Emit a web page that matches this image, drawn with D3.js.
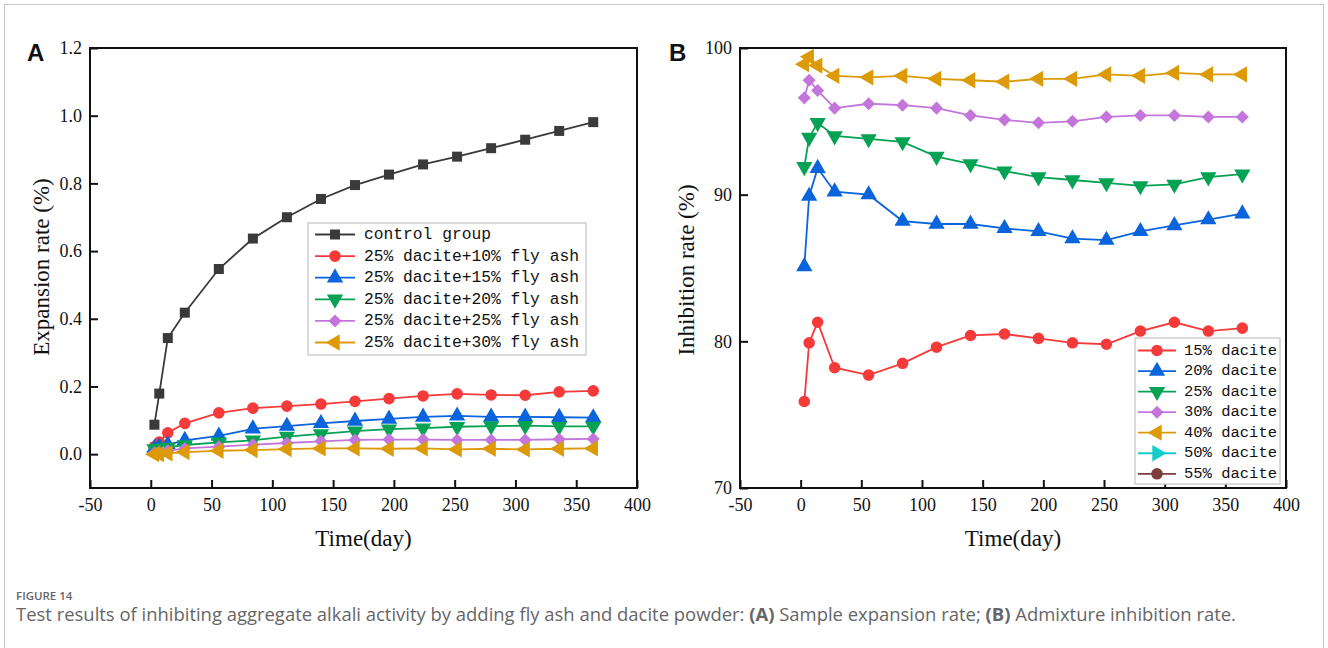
<!DOCTYPE html>
<html>
<head>
<meta charset="utf-8">
<script src="https://cdn.jsdelivr.net/npm/d3@7"></script>
<style>
  html, body { margin: 0; padding: 0; background: #fff; }
  svg { display: block; }
</style>
</head>
<body>
<svg id="chart" width="1328" height="648"></svg>
<script>
// ---------------- DATA ----------------
const days = [3, 7, 14, 28, 56, 84, 112, 140, 168, 196, 224, 252, 280, 308, 336, 364];

// Panel A: expansion rate (%)
const expansionNames = ["control group", "25% dacite+10% fly ash", "25% dacite+15% fly ash",
  "25% dacite+20% fly ash", "25% dacite+25% fly ash", "25% dacite+30% fly ash"];
const controlGroup = [0.087, 0.179, 0.343, 0.418, 0.547, 0.637, 0.700, 0.754, 0.795, 0.826, 0.856, 0.879, 0.904, 0.929, 0.955, 0.981];
const flyAsh10 = [0.022, 0.036, 0.063, 0.091, 0.122, 0.136, 0.142, 0.148, 0.156, 0.164, 0.172, 0.178, 0.175, 0.174, 0.184, 0.187];
const flyAsh15 = [0.018, 0.022, 0.028, 0.041, 0.054, 0.075, 0.083, 0.091, 0.098, 0.104, 0.110, 0.113, 0.110, 0.110, 0.109, 0.108];
const flyAsh20 = [0.015, 0.017, 0.020, 0.027, 0.035, 0.041, 0.052, 0.060, 0.068, 0.074, 0.077, 0.081, 0.083, 0.084, 0.082, 0.082];
const flyAsh25 = [0.004, 0.005, 0.010, 0.017, 0.022, 0.028, 0.033, 0.038, 0.042, 0.043, 0.043, 0.042, 0.042, 0.042, 0.044, 0.045];
const flyAsh30 = [0.000, 0.000, 0.002, 0.006, 0.010, 0.012, 0.015, 0.017, 0.017, 0.016, 0.017, 0.014, 0.016, 0.014, 0.016, 0.017];

// Panel B: inhibition rate (%)
const inhibitionNames = ["15% dacite", "20% dacite", "25% dacite", "30% dacite", "40% dacite", "50% dacite", "55% dacite"];
const dacite15 = [75.9, 79.9, 81.3, 78.2, 77.7, 78.5, 79.6, 80.4, 80.5, 80.2, 79.9, 79.8, 80.7, 81.3, 80.7, 80.9];
const dacite20 = [85.1, 89.9, 91.8, 90.2, 90.0, 88.2, 88.0, 88.0, 87.7, 87.5, 87.0, 86.9, 87.5, 87.9, 88.3, 88.7];
const dacite25 = [91.9, 93.9, 94.9, 94.0, 93.8, 93.6, 92.6, 92.1, 91.6, 91.2, 91.0, 90.8, 90.6, 90.7, 91.2, 91.4];
const dacite30 = [96.6, 97.8, 97.1, 95.9, 96.2, 96.1, 95.9, 95.4, 95.1, 94.9, 95.0, 95.3, 95.4, 95.4, 95.3, 95.3];
const dacite40 = [98.9, 99.4, 98.8, 98.1, 98.0, 98.1, 97.9, 97.8, 97.7, 97.9, 97.9, 98.2, 98.1, 98.3, 98.2, 98.2];
const dacite50 = [];
const dacite55 = [];

// Tick labels
const xTicks = [-50, 0, 50, 100, 150, 200, 250, 300, 350, 400];
const yTicksA = [0.0, 0.2, 0.4, 0.6, 0.8, 1.0, 1.2];
const yTicksB = [70, 80, 90, 100];

const captionTitle = "FIGURE 14";
const captionText = "Test results of inhibiting aggregate alkali activity by adding fly ash and dacite powder: ";

// ---------------- STYLE ----------------
const colors = {
  black: "#3a3a3a", red: "#f53a3a", blue: "#0a64dc", green: "#06a254",
  purple: "#c475dc", orange: "#dc9a06", cyan: "#14cccc", brown: "#7e3e3e"
};
const markerShapes = {
  square:  {type: d3.symbolSquare,   size: 100, rot: 0},
  circle:  {type: d3.symbolCircle,   size: 105, rot: 0},
  up:      {type: d3.symbolTriangle, size: 115, rot: 0},
  down:    {type: d3.symbolTriangle, size: 115, rot: 180},
  diamond: {type: d3.symbolSquare,   size: 85,  rot: 45},
  left:    {type: d3.symbolTriangle, size: 115, rot: -90},
  right:   {type: d3.symbolTriangle, size: 115, rot: 90}
};

const seriesA = [
  {name: expansionNames[0], values: controlGroup, color: colors.black, marker: "square"},
  {name: expansionNames[1], values: flyAsh10, color: colors.red, marker: "circle"},
  {name: expansionNames[2], values: flyAsh15, color: colors.blue, marker: "up"},
  {name: expansionNames[3], values: flyAsh20, color: colors.green, marker: "down"},
  {name: expansionNames[4], values: flyAsh25, color: colors.purple, marker: "diamond"},
  {name: expansionNames[5], values: flyAsh30, color: colors.orange, marker: "left"}
];
const seriesB = [
  {name: inhibitionNames[0], values: dacite15, color: colors.red, marker: "circle"},
  {name: inhibitionNames[1], values: dacite20, color: colors.blue, marker: "up"},
  {name: inhibitionNames[2], values: dacite25, color: colors.green, marker: "down"},
  {name: inhibitionNames[3], values: dacite30, color: colors.purple, marker: "diamond"},
  {name: inhibitionNames[4], values: dacite40, color: colors.orange, marker: "left"},
  {name: inhibitionNames[5], values: dacite50, color: colors.cyan, marker: "right"},
  {name: inhibitionNames[6], values: dacite55, color: colors.brown, marker: "circle"}
];

const svg = d3.select("#chart");
const serif = "'Liberation Serif', 'Times New Roman', serif";
const mono = "'Liberation Mono', 'Courier New', monospace";

// outer frame
svg.append("rect").attr("x", 4.5).attr("y", 4.5).attr("width", 1319).attr("height", 660)
  .attr("fill", "none").attr("stroke", "#c8c8c8").attr("stroke-width", 1);

function symbolPath(m) {
  const s = markerShapes[m];
  return d3.symbol().type(s.type).size(s.size)();
}

function drawPanel(cfg) {
  const x = d3.scaleLinear().domain([-50, 400]).range([cfg.left, cfg.right]);
  const y = d3.scaleLinear().domain(cfg.yDomain).range([cfg.bottom, cfg.top]);
  const g = svg.append("g");

  // x axis (inward ticks)
  const xAxis = d3.axisBottom(x).tickValues(xTicks).tickFormat(d => String(d))
    .tickSizeInner(-8).tickSizeOuter(0).tickPadding(10);
  const gx = g.append("g").attr("transform", `translate(0,${cfg.bottom})`).call(xAxis);
  // y axis
  const yAxis = d3.axisLeft(y).tickValues(cfg.yTicks).tickFormat(cfg.yFormat)
    .tickSizeInner(-8).tickSizeOuter(0).tickPadding(8);
  const gy = g.append("g").attr("transform", `translate(${cfg.left},0)`).call(yAxis);

  [gx, gy].forEach(a => {
    a.select(".domain").remove();
    a.selectAll(".tick line").attr("stroke", "#111").attr("stroke-width", 2);
    a.selectAll(".tick text").attr("font-family", serif).attr("font-size", 18).attr("fill", "#111");
  });

  // frame
  g.append("rect").attr("x", cfg.left).attr("y", cfg.top)
    .attr("width", cfg.right - cfg.left).attr("height", cfg.bottom - cfg.top)
    .attr("fill", "none").attr("stroke", "#111").attr("stroke-width", 2);

  // series
  const line = d3.line().x((d, i) => x(days[i])).y(d => y(d));
  cfg.series.forEach(s => {
    if (!s.values.length) return;
    g.append("path").datum(s.values).attr("d", line)
      .attr("fill", "none").attr("stroke", s.color).attr("stroke-width", 1.8);
    g.selectAll(null).data(s.values).enter().append("path")
      .attr("d", symbolPath(s.marker))
      .attr("transform", (d, i) => `translate(${x(days[i])},${y(d)}) rotate(${markerShapes[s.marker].rot})`)
      .attr("fill", s.color);
  });

  // axis titles
  g.append("text").attr("x", (cfg.left + cfg.right) / 2).attr("y", 546)
    .attr("text-anchor", "middle").attr("font-family", serif).attr("font-size", 23)
    .attr("fill", "#111").text("Time(day)");
  g.append("text").attr("transform", `translate(${cfg.yTitleX},${cfg.yTitleY}) rotate(-90)`)
    .attr("text-anchor", "middle").attr("dominant-baseline", "central")
    .attr("font-family", serif).attr("font-size", 23).attr("fill", "#111").text(cfg.yTitle);

  // panel letter
  g.append("text").attr("x", cfg.letterX).attr("y", 61)
    .attr("font-family", "'Liberation Sans', Arial, sans-serif").attr("font-weight", "bold")
    .attr("font-size", 24).attr("fill", "#111").text(cfg.letter);

  // legend
  const L = cfg.legend;
  g.append("rect").attr("x", L.x).attr("y", L.y).attr("width", L.w).attr("height", L.h)
    .attr("fill", "#fff").attr("stroke", "#cfcfcf").attr("stroke-width", 1.5);
  cfg.series.forEach((s, i) => {
    const cy = L.firstY + i * L.step;
    g.append("line").attr("x1", L.lineX1).attr("x2", L.lineX2).attr("y1", cy).attr("y2", cy)
      .attr("stroke", s.color).attr("stroke-width", 1.8);
    g.append("path").attr("d", symbolPath(s.marker))
      .attr("transform", `translate(${(L.lineX1 + L.lineX2) / 2},${cy}) rotate(${markerShapes[s.marker].rot})`)
      .attr("fill", s.color);
    g.append("text").attr("x", L.textX).attr("y", cy).attr("dominant-baseline", "central")
      .attr("font-family", mono).attr("font-size", L.fontSize).attr("fill", "#111").text(s.name);
  });
}

drawPanel({
  left: 90, right: 637, top: 48, bottom: 488,
  yDomain: [-0.1, 1.2], yTicks: yTicksA, yFormat: d3.format(".1f"),
  series: seriesA, yTitle: "Expansion rate (%)", yTitleX: 41, yTitleY: 267, letter: "A", letterX: 27,
  legend: {x: 308, y: 223, w: 278, h: 132, firstY: 234.5, step: 21.6,
           lineX1: 315, lineX2: 355, textX: 364, fontSize: 16.3}
});

drawPanel({
  left: 740, right: 1286, top: 48, bottom: 488,
  yDomain: [70, 100], yTicks: yTicksB, yFormat: d3.format("d"),
  series: seriesB, yTitle: "Inhibition rate (%)", yTitleX: 686, yTitleY: 270, letter: "B", letterX: 669,
  legend: {x: 1135, y: 338, w: 145, h: 146, firstY: 350.5, step: 20.55,
           lineX1: 1138, lineX2: 1176, textX: 1184, fontSize: 15.5}
});

// caption
svg.append("text").attr("x", 16).attr("y", 600)
  .attr("font-family", "'Open Sans', sans-serif").attr("font-weight", 600).attr("font-size", 11.5)
  .attr("fill", "#666").text(captionTitle);
const cap = svg.append("text").attr("id", "caption").attr("x", 16).attr("y", 621)
  .attr("font-family", "'Open Sans', sans-serif").attr("font-size", 18.45).attr("fill", "#666");
cap.append("tspan").text(captionText);
cap.append("tspan").attr("font-weight", "bold").text("(A)");
cap.append("tspan").text(" Sample expansion rate; ");
cap.append("tspan").attr("font-weight", "bold").text("(B)");
cap.append("tspan").text(" Admixture inhibition rate.");
</script>
</body>
</html>
